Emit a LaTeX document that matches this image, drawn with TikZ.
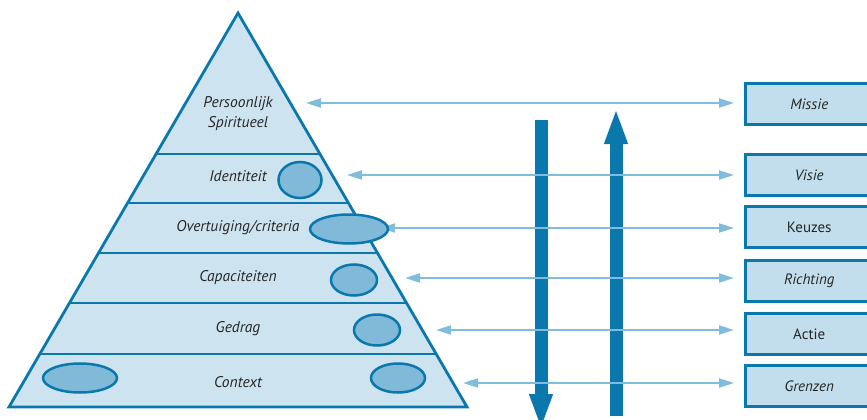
\documentclass[tikz,border=0pt]{standalone}
\usepackage{fontspec}
\setmainfont{PT Sans}
\usetikzlibrary{arrows.meta}
\definecolor{deepblue}{HTML}{0A77AD}
\definecolor{paleblue}{HTML}{CDE4F0}
\definecolor{boxblue}{HTML}{C2DEEC}
\definecolor{midblue}{HTML}{80BAD8}
\definecolor{linkblue}{HTML}{80BCDB}
\tikzset{
  level/.style={font=\itshape\fontsize{15.5}{20}\selectfont, text=black!85},
  blob/.style={draw=deepblue, line width=2.5pt, fill=midblue},
  tag/.style={draw=deepblue, line width=2.5pt, fill=boxblue, minimum width=128pt,
    minimum height=41pt, anchor=west, font=\fontsize{15}{18}\selectfont, text=black!85},
  link/.style={draw=linkblue, line width=2pt,
    {Triangle[length=15pt,width=9pt]}-{Triangle[length=15pt,width=9pt]}},
  bigarrow/.style={draw=deepblue, line width=13pt,
    -{Triangle[length=36pt,width=21pt]}}
}
\begin{document}
\begin{tikzpicture}[x=1pt,y=-1pt]
\useasboundingbox (0,0) rectangle (867,420);

% vertical process arrows
\coordinate (downtop) at (541,120);
\coordinate (downend) at (541,430);
\coordinate (upbot) at (616,416);
\coordinate (uptop) at (616,108);
\draw[bigarrow] (downtop) -- (downend);
\draw[bigarrow] (upbot) -- (uptop);

% boxes on the right
\node[tag] (missie) at (744,104) {\itshape Missie};
\node[tag] (visie) at (744,175) {\itshape Visie};
\node[tag] (keuzes) at (744,227) {Keuzes};
\node[tag] (richting) at (744,281) {\itshape Richting};
\node[tag] (actie) at (744,334) {Actie};
\node[tag] (grenzen) at (744,386) {\itshape Grenzen};

% left ends of the links
\coordinate (l1) at (306,103);
\coordinate (l2) at (347,175);
\coordinate (l3) at (380,228);
\coordinate (l4) at (405,278);
\coordinate (l5) at (436,330);
\coordinate (l6) at (463,383);
\coordinate (r1) at (734,103);
\coordinate (r2) at (734,175);
\coordinate (r3) at (734,228);
\coordinate (r4) at (734,278);
\coordinate (r5) at (734,330);
\coordinate (r6) at (734,383);
\foreach \i in {1,...,6} \draw[link] (l\i) -- (r\i);

% pyramid
\draw[deepblue, line width=2.8pt, fill=paleblue, line join=miter]
  (238,13) -- (467,407) -- (9,407) -- cycle;
\draw[deepblue, line width=2.8pt]
  (156.1,154) -- (319.9,154)
  (127.6,203) -- (348.4,203)
  (98.5,253) -- (377.5,253)
  (69.5,303) -- (406.5,303)
  (39.8,354) -- (436.2,354);

% level labels
\node[level, align=center] (spirit) at (238,114) {Persoonlijk\\Spiritueel};
\node[level] (ident) at (238,176) {Identiteit};
\node[level] (overt) at (238,228) {Overtuiging/criteria};
\node[level] (capac) at (238,278) {Capaciteiten};
\node[level] (gedrag) at (238,329) {Gedrag};
\node[level] (context) at (238,382) {Context};

% markers
\draw[blob] (300,180) ellipse [x radius=21.5, y radius=18];
\draw[blob] (349,229) ellipse [x radius=39, y radius=14.5];
\draw[blob] (354,280) ellipse [x radius=23, y radius=15.5];
\draw[blob] (377,330) ellipse [x radius=23, y radius=15.5];
\draw[blob] (80,378) ellipse [x radius=37, y radius=14.5];
\draw[blob] (398,378) ellipse [x radius=27, y radius=14.5];
\end{tikzpicture}
\end{document}
